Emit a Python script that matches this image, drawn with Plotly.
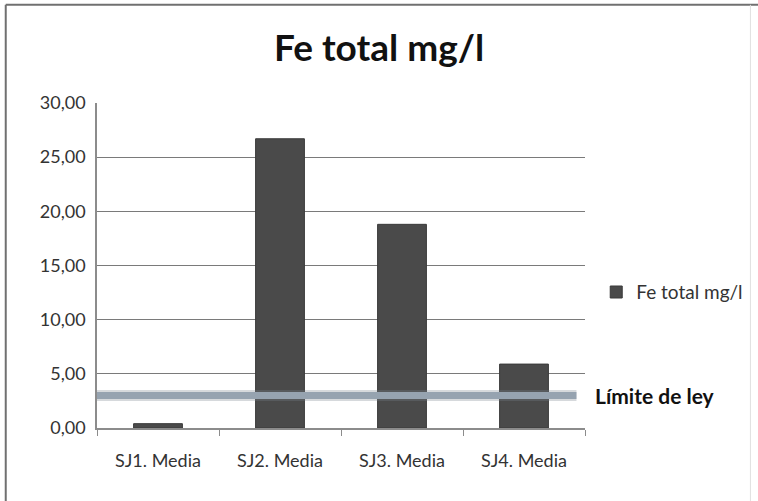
import plotly.graph_objects as go

categories = ["SJ1. Media", "SJ2. Media", "SJ3. Media", "SJ4. Media"]
fe_values = [0.4, 26.7, 18.8, 5.9]
limit_value = 3.0
limit_label = "Límite de ley"
series_name = "Fe total mg/l"
title_text = "Fe total mg/l"
y_ticks = [0, 5, 10, 15, 20, 25, 30]
y_tick_labels = ["0,00", "5,00", "10,00", "15,00", "20,00", "25,00", "30,00"]

FONT = "Lato, 'Open Sans', sans-serif"

fig = go.Figure()
fig.add_trace(go.Bar(
    x=categories, y=fe_values, name=series_name,
    marker=dict(color="#4a4a4a", line=dict(color="#3a3a3a", width=1)),
    showlegend=True,
))

# limit line (shadow + main)
fig.add_shape(type="line", xref="x", yref="y", x0=-0.5, x1=3.43, y0=limit_value, y1=limit_value,
              line=dict(color="rgba(120,130,140,0.3)", width=11), layer="above")
fig.add_shape(type="line", xref="x", yref="y", x0=-0.5, x1=3.43, y0=limit_value, y1=limit_value,
              line=dict(color="#96a3b0", width=7), layer="above")
fig.add_annotation(x=1.017, y=limit_value, xref="paper", yref="y", text="<b>" + limit_label + "</b>",
                   showarrow=False, xanchor="left", yanchor="middle",
                   font=dict(family=FONT, size=21, color="#111111"))

# chart border (top and left)
fig.add_shape(type="line", xref="paper", yref="paper", x0=-0.187, x1=1.36, y0=1.302, y1=1.302,
              line=dict(color="#707070", width=2))
fig.add_shape(type="line", xref="paper", yref="paper", x0=-0.187, x1=-0.187, y0=1.302, y1=-0.25,
              line=dict(color="#707070", width=2))
fig.add_shape(type="line", xref="paper", yref="paper", x0=1.339, x1=1.339, y0=1.302, y1=-0.25,
              line=dict(color="#e0e0e0", width=1))

fig.update_layout(
    width=758, height=501,
    margin=dict(l=97, r=173, t=103, b=73, autoexpand=False),
    paper_bgcolor="white", plot_bgcolor="white",
    title=dict(text="<b>" + title_text + "</b>", x=0.5, xanchor="center", y=0.905, yanchor="middle",
               font=dict(family=FONT, size=37, color="#111111")),
    bargap=0.6,
    font=dict(family=FONT, color="#333333"),
    legend=dict(x=1.023, y=0.418, xanchor="left", yanchor="middle",
                font=dict(family=FONT, size=19, color="#333333"), itemwidth=30),
    xaxis=dict(range=[-0.5, 3.5], showline=True, linecolor="#8c8c8c", linewidth=1.5, ticks="outside",
               tickson="boundaries", ticklen=6, tickcolor="#8c8c8c", ticklabelstandoff=16,
               tickfont=dict(family=FONT, size=18, color="#333333"), showgrid=False, automargin=False),
    yaxis=dict(range=[0, 30], tickvals=y_ticks, ticktext=y_tick_labels, showline=True,
               linecolor="#8c8c8c", linewidth=1.5, showgrid=True, gridcolor="#7a7a7a", gridwidth=1,
               tickfont=dict(family=FONT, size=18, color="#333333"), zeroline=False, ticks="",
               ticklabelstandoff=6, automargin=False),
)

fig.write_html("out.html", config={"displayModeBar": False},
               post_script="document.body.style.margin='0px';")
